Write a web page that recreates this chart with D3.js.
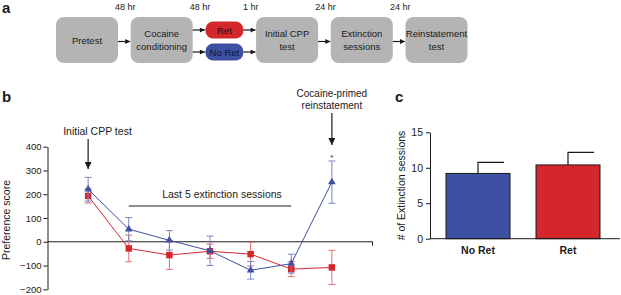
<!DOCTYPE html>
<html><head><meta charset="utf-8">
<script src="https://cdn.jsdelivr.net/npm/d3@7"></script>
<style>body{margin:0;background:#fff}svg{display:block;font-family:"Liberation Sans",Arial,sans-serif}</style>
</head><body><svg id="c" width="621" height="295"></svg>
<script>
// ---- Panel a: protocol flow ----
const stages = ["Pretest", "Cocaine\nconditioning", "pill", "Initial CPP\ntest", "Extinction\nsessions", "Reinstatement\ntest"];
const stageWidths = [62, 62, 38, 62, 62, 62];
const delays = ["48 hr", "48 hr", "1 hr", "24 hr", "24 hr"];
const pills = ["Ret", "No Ret"];

// ---- Panel b: preference score ----
const sessions = [1, 2, 3, 4, 5, 6, 7];
const noRetScore = [221, 53, 6, -38, -120, -92, 251];
const noRetSem = [50, 49, 41, 62, 37, 40, 89];
const retScore = [193, -28, -56, -40, -52, -115, -108];
const retSem = [30, 56, 60, 30, 50, 32, 72];
const scoreTicks = [-200, -100, 0, 100, 200, 300, 400];

// ---- Panel c: extinction sessions ----
const groups = ["No Ret", "Ret"];
const groupMeans = [9.2, 10.4];
const groupSem = [1.55, 1.77];
const sessionTicks = [0, 5, 10, 15];

const BLUE = "#3d50a2", RED = "#d3272c", GRAY = "#b4b4b4", INK = "#1a1a1a";
const svg = d3.select("#c");
const defs = svg.append("defs");
defs.append("marker").attr("id", "ah").attr("viewBox", "0 0 10 10").attr("refX", 10).attr("refY", 5)
  .attr("markerWidth", 6).attr("markerHeight", 5).attr("markerUnits", "userSpaceOnUse").attr("orient", "auto")
  .append("path").attr("d", "M0,0L10,5L0,10z").attr("fill", INK);
defs.append("marker").attr("id", "ahb").attr("viewBox", "0 0 10 10").attr("refX", 10).attr("refY", 5)
  .attr("markerWidth", 10).attr("markerHeight", 7).attr("markerUnits", "userSpaceOnUse").attr("orient", "auto")
  .append("path").attr("d", "M0,0L10,5L0,10z").attr("fill", INK);

// panel labels
[["a", 2, 13], ["b", 2, 102], ["c", 395, 102]].forEach(([t, x, y]) =>
  svg.append("text").attr("x", x).attr("y", y).attr("font-size", 15).attr("font-weight", "bold").attr("fill", INK).text(t));

// ---- flow layout ----
const gap = 12.7, startX = 56;
const lefts = [];
stageWidths.reduce((acc, w, i) => { lefts.push(acc); return acc + w + gap; }, startX);
const yTop = 17, yBot = 63, yMid = (yTop + yBot) / 2;
const ga = svg.append("g");
stages.forEach((s, i) => {
  const x0 = lefts[i], w = stageWidths[i];
  if (s === "pill") {
    const py = [[21.5, 38.5], [43.5, 60.5]];
    pills.forEach((p, j) => {
      ga.append("rect").attr("x", x0).attr("y", py[j][0]).attr("width", w).attr("height", py[j][1] - py[j][0])
        .attr("rx", 8).attr("fill", j === 0 ? RED : BLUE);
      ga.append("text").attr("x", x0 + w / 2).attr("y", (py[j][0] + py[j][1]) / 2 + 3.5)
        .attr("text-anchor", "middle").attr("font-size", 9.5).attr("fill", j === 0 ? "#2a0a0a" : "#0d1330").text(p);
    });
  } else {
    ga.append("rect").attr("x", x0).attr("y", yTop).attr("width", w).attr("height", yBot - yTop)
      .attr("rx", 8).attr("fill", GRAY);
    const lines = s.split("\n");
    lines.forEach((l, k) => {
      ga.append("text").attr("x", x0 + w / 2).attr("y", yMid + 3.5 + (k - (lines.length - 1) / 2) * 12.4)
        .attr("text-anchor", "middle").attr("font-size", 9.5).attr("fill", INK).text(l);
    });
  }
  if (i < stages.length - 1) {
    const ax0 = x0 + w, ax1 = lefts[i + 1];
    ga.append("text").attr("x", (ax0 + ax1) / 2 + 1).attr("y", 10).attr("text-anchor", "middle")
      .attr("font-size", 9).attr("fill", INK).text(delays[i]);
    const ys = (stages[i] === "pill" || stages[i + 1] === "pill") ? [30, 52] : [41.5];
    ys.forEach(y => ga.append("line").attr("x1", ax0).attr("x2", ax1 - 0.5).attr("y1", y).attr("y2", y)
      .attr("stroke", INK).attr("stroke-width", 1.2).attr("marker-end", "url(#ah)"));
  }
});

// ---- Panel b ----
const x = d3.scaleLinear().domain([0, 8]).range([47.5, 372.5]);
const y = d3.scaleLinear().domain([-200, 400]).range([289.3, 146.7]);
const gb = svg.append("g");
gb.append("g").attr("transform", `translate(${x(0)},0)`)
  .call(d3.axisLeft(y).tickValues(scoreTicks).tickSize(4).tickSizeOuter(0).tickPadding(2))
  .call(g => { g.selectAll("text").attr("font-size", 9.5).attr("fill", INK).attr("font-family", null);
               g.selectAll("line,path").attr("stroke", INK); g.select(".domain").attr("stroke-width", 1); });
gb.append("path").attr("d", `M${x(0)},${y(0)}H${x(8)}V${y(0) + 4}`).attr("fill", "none").attr("stroke", INK);
gb.append("text").attr("transform", `translate(10,${(y(400) + y(-200)) / 2 + 2}) rotate(-90)`)
  .attr("text-anchor", "middle").attr("font-size", 10.5).attr("fill", INK).text("Preference score");

function series(vals, sem, color, errColor, shape) {
  const g = gb.append("g");
  g.append("path").datum(vals).attr("fill", "none").attr("stroke", color).attr("stroke-width", 1)
    .attr("d", d3.line().x((d, i) => x(sessions[i])).y(d => y(d)));
  vals.forEach((v, i) => {
    const cx = x(sessions[i]);
    g.append("path").attr("fill", "none").attr("stroke", errColor).attr("stroke-width", 1)
      .attr("d", `M${cx},${y(v - sem[i])}V${y(v + sem[i])}M${cx - 3.5},${y(v + sem[i])}h7M${cx - 3.5},${y(v - sem[i])}h7`);
  });
  g.selectAll("path.m").data(vals).join("path").attr("class", "m")
    .attr("transform", (d, i) => `translate(${x(sessions[i])},${y(d)})`)
    .attr("d", d3.symbol().type(shape).size(shape === d3.symbolSquare ? 42 : 26)())
    .attr("fill", color);
}
series(retScore, retSem, RED, "#e07075", d3.symbolSquare);
series(noRetScore, noRetSem, BLUE, "#7b87c2", d3.symbolTriangle);

// annotations panel b
gb.append("text").attr("x", x(1) - 25).attr("y", 135).attr("font-size", 10.5).attr("fill", INK).text("Initial CPP test");
gb.append("line").attr("x1", x(1)).attr("x2", x(1)).attr("y1", 139).attr("y2", 169)
  .attr("stroke", INK).attr("stroke-width", 1.2).attr("marker-end", "url(#ahb)");
gb.append("text").attr("x", (x(2) + x(6)) / 2 + 12).attr("y", 198).attr("text-anchor", "middle")
  .attr("font-size", 10.5).attr("fill", INK).text("Last 5 extinction sessions");
gb.append("line").attr("x1", x(2)).attr("x2", x(6)).attr("y1", 206).attr("y2", 206).attr("stroke", INK).attr("stroke-width", 1);
gb.append("text").attr("x", x(7)).attr("y", 97).attr("text-anchor", "middle").attr("font-size", 10).attr("fill", INK).text("Cocaine-primed");
gb.append("text").attr("x", x(7)).attr("y", 109).attr("text-anchor", "middle").attr("font-size", 10).attr("fill", INK).text("reinstatement");
gb.append("line").attr("x1", x(7)).attr("x2", x(7)).attr("y1", 113).attr("y2", 145)
  .attr("stroke", INK).attr("stroke-width", 1.2).attr("marker-end", "url(#ahb)");
gb.append("text").attr("x", x(7)).attr("y", y(noRetScore[6] + noRetSem[6]) - 1).attr("text-anchor", "middle")
  .attr("font-size", 8).attr("fill", INK).text("*");

// ---- Panel c ----
const xb = d3.scaleBand().domain(groups).range([433, 613]).paddingInner(0.289).paddingOuter(0.1445);
const yb = d3.scaleLinear().domain([0, 15]).range([238.7, 132.3]);
const gc = svg.append("g");
groups.forEach((gname, i) => {
  const cx = xb(gname) + xb.bandwidth() / 2;
  gc.append("path").attr("fill", "none").attr("stroke", INK).attr("stroke-width", 1.2)
    .attr("d", `M${cx},${yb(groupMeans[i])}V${yb(groupMeans[i] + groupSem[i])}h26`);
});
gc.selectAll("rect").data(groups).join("rect")
  .attr("x", d => xb(d)).attr("width", xb.bandwidth())
  .attr("y", (d, i) => yb(groupMeans[i])).attr("height", (d, i) => yb(0) - yb(groupMeans[i]))
  .attr("fill", (d, i) => i === 0 ? BLUE : RED).attr("stroke", INK).attr("stroke-width", 1);
gc.append("g").attr("transform", `translate(430,0)`)
  .call(d3.axisLeft(yb).tickValues(sessionTicks).tickSize(4).tickSizeOuter(0).tickPadding(3))
  .call(g => { g.selectAll("text").attr("font-size", 10.5).attr("fill", INK).attr("font-family", null);
               g.selectAll("line,path").attr("stroke", INK); });
gc.append("line").attr("x1", 430).attr("x2", 620).attr("y1", yb(0)).attr("y2", yb(0)).attr("stroke", INK);
groups.forEach(gname => gc.append("text").attr("x", xb(gname) + xb.bandwidth() / 2).attr("y", 254)
  .attr("text-anchor", "middle").attr("font-size", 10.5).attr("font-weight", "bold").attr("fill", INK).text(gname));
gc.append("text").attr("transform", `translate(405,${(yb(0) + yb(15)) / 2}) rotate(-90)`)
  .attr("text-anchor", "middle").attr("font-size", 10.5).attr("fill", INK).text("# of Extinction sessions");
</script></body></html>
